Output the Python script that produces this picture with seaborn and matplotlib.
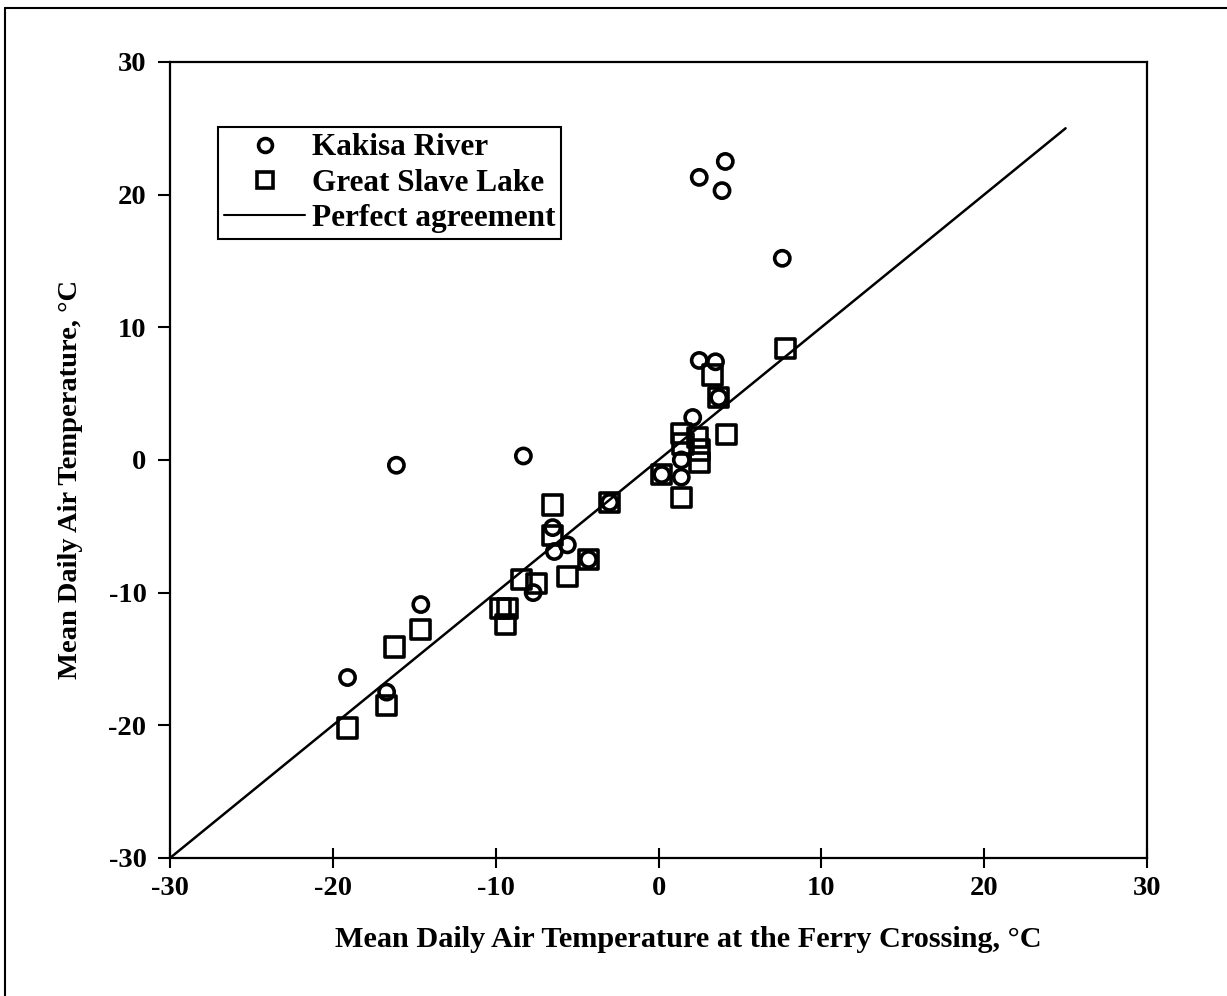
import matplotlib
matplotlib.use("Agg")
import matplotlib.pyplot as plt
from matplotlib.lines import Line2D
import seaborn as sns
import pandas as pd

# Kakisa River: ferry-crossing temperature vs. site temperature (deg C)
kakisa_x = [-19.1, -16.7, -14.6, -16.1, -8.3, -7.7, -6.5, -6.4, -5.6, -3.0,
            0.2, 1.4, 1.4, 2.1, 2.5, 3.5, 3.7, 2.5, 4.1, 3.9, 7.6, -4.3]
kakisa_y = [-16.4, -17.5, -10.9, -0.4, 0.3, -10.0, -5.1, -6.9, -6.4, -3.2,
            -1.1, 0.0, -1.3, 3.2, 7.5, 7.4, 4.7, 21.3, 22.5, 20.3, 15.2, -7.5]

# Great Slave Lake
slave_x = [-19.1, -16.7, -16.2, -14.6, -9.7, -9.3, -9.4, -8.4, -7.5, -6.5,
           -6.5, -5.6, -4.3, -3.0, 0.2, 1.4, 2.4, 4.2, 2.5, 2.5, 1.4, 1.5,
           3.3, 3.7, 7.8]
slave_y = [-20.2, -18.5, -14.1, -12.8, -11.2, -11.2, -12.4, -9.0, -9.3, -3.4,
           -5.7, -8.8, -7.5, -3.2, -1.1, 2.0, 1.7, 1.9, 0.75, -0.2, -2.8, 1.2,
           6.4, 4.7, 8.4]

# 1:1 reference line
line_x = [-30, 25]
line_y = [-30, 25]

x_ticks = [-30, -20, -10, 0, 10, 20, 30]
y_ticks = [-30, -20, -10, 0, 10, 20, 30]

sns.set_theme(style="white")
plt.rcParams["font.family"] = ["Liberation Serif", "DejaVu Serif"]
plt.rcParams["font.weight"] = "bold"
plt.rcParams["text.color"] = "black"
plt.rcParams["axes.labelcolor"] = "black"
plt.rcParams["xtick.color"] = "black"
plt.rcParams["ytick.color"] = "black"

fig = plt.figure(figsize=(12.27, 9.96), dpi=100)
ax = fig.add_axes([0.1386, 0.1386, 0.7962, 0.7992])

kakisa = pd.DataFrame({"x": kakisa_x, "y": kakisa_y})
slave = pd.DataFrame({"x": slave_x, "y": slave_y})

sns.lineplot(x=line_x, y=line_y, ax=ax, color="black", linewidth=1.8,
             estimator=None, sort=False)
sns.scatterplot(data=slave, x="x", y="y", ax=ax, marker="s", s=190,
                facecolor="none", edgecolor="black", linewidth=2.6)
sns.scatterplot(data=kakisa, x="x", y="y", ax=ax, marker="o", s=120,
                facecolor="none", edgecolor="black", linewidth=2.6)

ax.set_xlim(-30, 30)
ax.set_ylim(-30, 30)
ax.set_xticks(x_ticks)
ax.set_yticks(y_ticks)
ax.set_xticklabels([str(t) for t in x_ticks], fontsize=20.5, fontweight="bold")
ax.set_yticklabels([str(t) for t in y_ticks], fontsize=20.5, fontweight="bold")
ax.tick_params(axis="x", direction="inout", length=14, width=1.5, pad=6,
               bottom=True, colors="black")
ax.tick_params(axis="y", direction="out", length=9, width=1.5, pad=8,
               left=True, colors="black")

for sp in ax.spines.values():
    sp.set_visible(True)
    sp.set_color("black")
    sp.set_linewidth(1.6)

ax.set_xlabel("Mean Daily Air Temperature at the Ferry Crossing, °C",
              fontsize=21.8, fontweight="bold")
ax.set_ylabel("Mean Daily Air Temperature, °C",
              fontsize=20.5, fontweight="bold")
ax.xaxis.set_label_coords(0.530, -0.086)
ax.yaxis.set_label_coords(-0.089, 0.475)

handles = [
    Line2D([], [], marker="o", linestyle="none", markersize=10,
           markerfacecolor="none", markeredgecolor="black", markeredgewidth=2.6),
    Line2D([], [], marker="s", linestyle="none", markersize=12,
           markerfacecolor="none", markeredgecolor="black", markeredgewidth=2.6),
    Line2D([], [], color="black", linewidth=1.5),
]
labels = ["Kakisa River", "Great Slave Lake", "Perfect agreement"]
leg = ax.legend(handles, labels, loc="upper left",
                bbox_to_anchor=(0.049, 0.918), frameon=True, fancybox=False,
                framealpha=1, edgecolor="black",
                prop={"weight": "bold", "size": 22.5},
                handlelength=2.6, handletextpad=0.2, borderpad=0.2,
                labelspacing=0.2, borderaxespad=0)
leg.get_frame().set_linewidth(1.5)

# Outer frame along the left and top of the page
fig.add_artist(Line2D([0.004, 0.004], [0.0, 0.992], transform=fig.transFigure,
                      color="black", linewidth=1.5))
fig.add_artist(Line2D([0.004, 1.0], [0.992, 0.992], transform=fig.transFigure,
                      color="black", linewidth=1.5))

fig.savefig("out.png", dpi=100, facecolor="white")
